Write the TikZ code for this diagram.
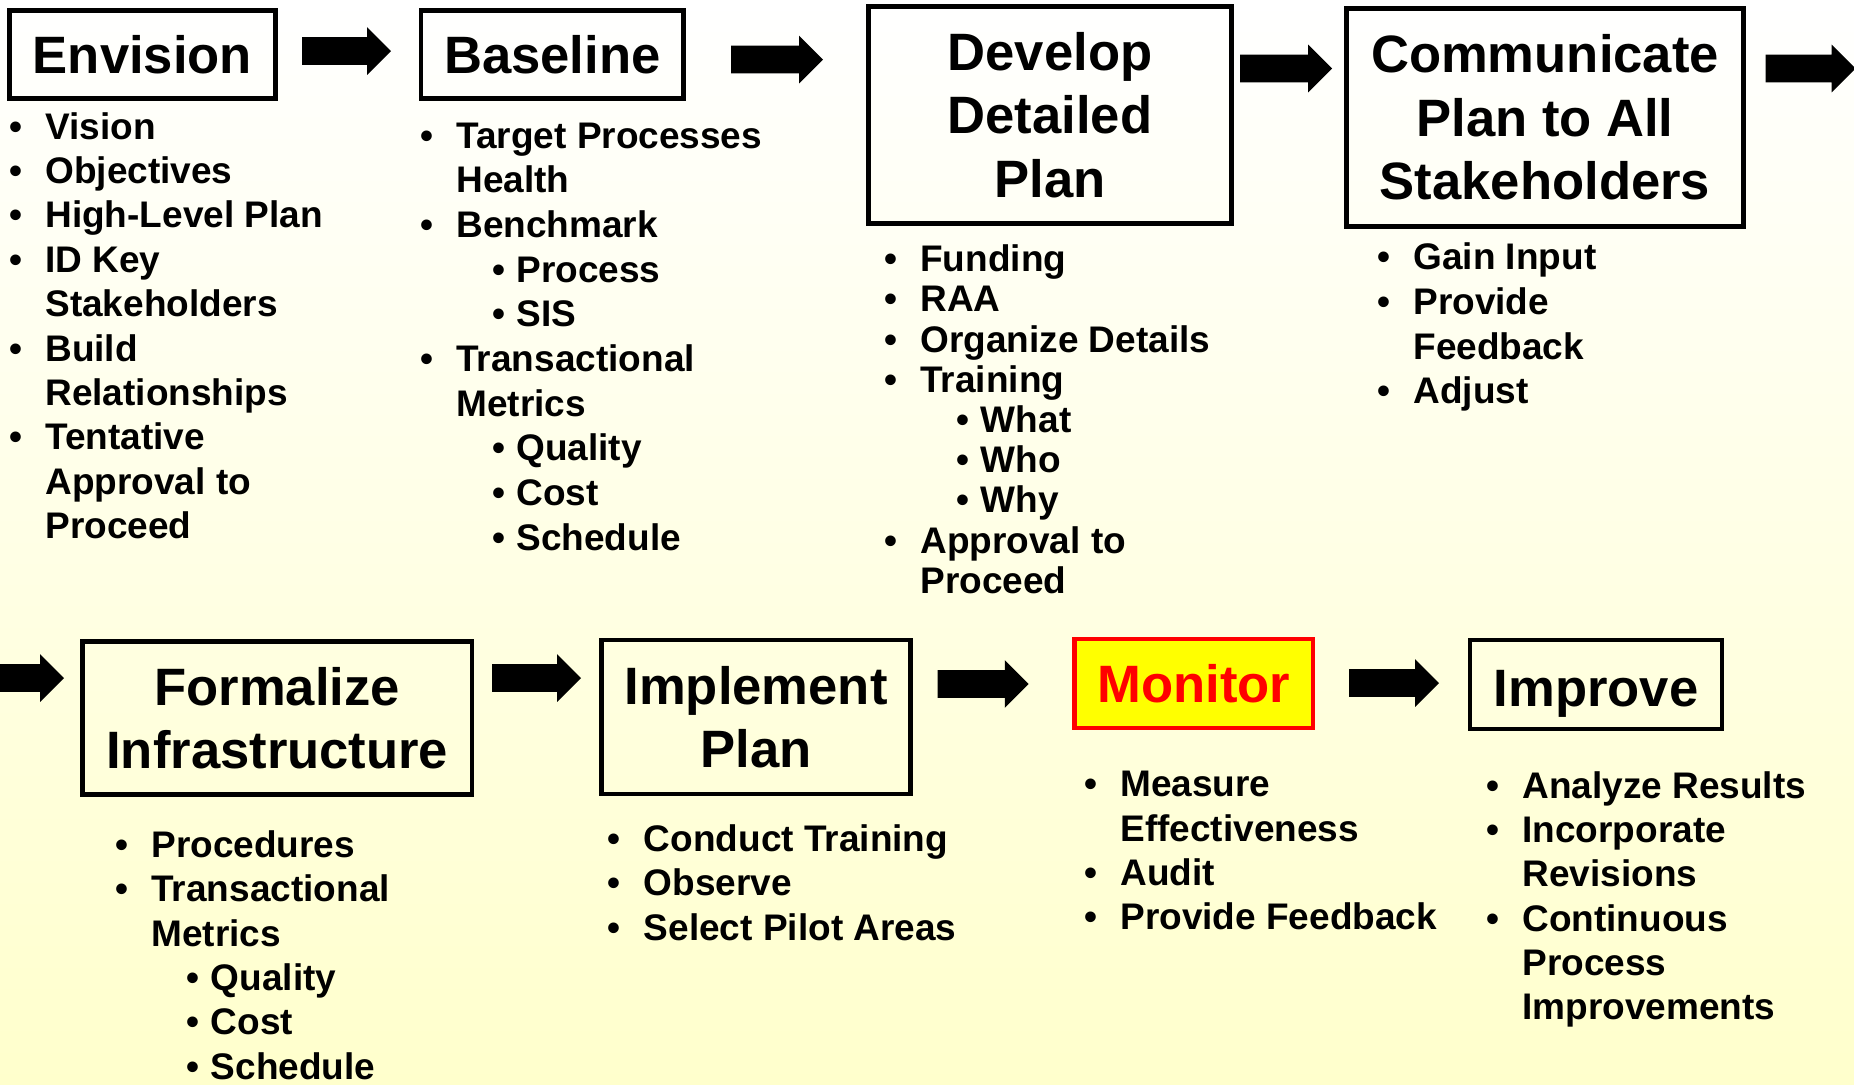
\documentclass[tikz,border=0pt]{standalone}
\usepackage{fontspec}
\setmainfont{Liberation Sans}
\usetikzlibrary{shapes.arrows}
\definecolor{bgbot}{RGB}{255,255,204}
\definecolor{mred}{RGB}{255,0,0}
\definecolor{myel}{RGB}{255,255,0}
\newcommand{\bu}{\llap{•\hspace{11.7pt}}}
\newcommand{\sbu}{\llap{•\hspace{5.7pt}}}
\begin{document}
\begin{tikzpicture}[x=0.5pt,y=-0.5pt,
  stage/.style={draw, line width=2.2pt, inner sep=0pt, align=center,
    font=\fontsize{26.3pt}{31.8pt}\selectfont\bfseries},
  li/.style={anchor=base west, inner sep=0pt,
    font=\fontsize{18.5pt}{22pt}\selectfont\bfseries},
  blk/.style={single arrow, fill=black, draw=none, inner xsep=0pt, inner ysep=6.75pt,
    outer sep=0pt, text height=0pt, text depth=0pt,
    minimum width=23.5pt, single arrow head extend=5pt,
    single arrow tip angle=90, anchor=tail}]
\useasboundingbox (0,0) rectangle (1854,1084);
\clip (0,0) rectangle (1854,1084);
\shade[top color=white, bottom color=bgbot] (0,0) rectangle (1854,1084);

% stage boxes
\node[stage, minimum width=133pt, minimum height=44pt] (envision) at (142.5,54.5) {Envision};
\node[stage, minimum width=131.25pt, minimum height=44pt] (baseline) at (552.25,54.5) {Baseline};
\node[stage, minimum width=181.5pt, minimum height=108.5pt] (develop) at (1050,114.8) {Develop\\Detailed\\Plan};
\node[stage, minimum width=198.5pt, minimum height=109pt] (communicate) at (1545,117.5) {Communicate\\Plan to All\\Stakeholders};
\node[stage, minimum width=194.75pt, minimum height=76.5pt] (formalize) at (277.25,718) {Formalize\\Infrastructure};
\node[stage, minimum width=154.5pt, minimum height=76.75pt] (implement) at (756,717) {Implement\\Plan};
\node[stage, draw=mred, fill=myel, text=mred, minimum width=119.25pt, minimum height=44.25pt] (monitor) at (1193.75,683.5) {Monitor};
\node[stage, minimum width=126pt, minimum height=44.5pt, text height=21.5pt, text depth=0pt] (improve) at (1596,684.5) {Improve};

% block arrows
\node[blk, minimum height=44.5pt] (a1) at (302,51) {};
\node[blk, minimum height=46pt] (a2) at (731,59.5) {};
\node[blk, minimum height=46pt] (a3) at (1240,68.5) {};
\node[blk, minimum height=45pt] (a4) at (1765.5,68.5) {};
\node[blk, minimum height=45pt] (a5) at (-26,678) {};
\node[blk, minimum height=44.5pt] (a6) at (492,678) {};
\node[blk, minimum height=45.5pt] (a7) at (937.7,684) {};
\node[blk, minimum height=45pt] (a8) at (1349,683) {};

% lists
\foreach \lx/\lt [count=\i] in {45/\bu Vision, 45/\bu Objectives, 45/\bu High-Level Plan,
  45/\bu ID Key, 45/Stakeholders, 45/\bu Build, 45/Relationships, 45/\bu Tentative,
  45/Approval to, 45/Proceed}
  \node[li] (env\i) at (\lx,{139+44.4*(\i-1)}) {\lt};

\foreach \lx/\lt [count=\i] in {456/\bu Target Processes, 456/Health, 456/\bu Benchmark,
  516/\sbu Process, 516/\sbu SIS, 456/\bu Transactional, 456/Metrics,
  516/\sbu Quality, 516/\sbu Cost, 516/\sbu Schedule}
  \node[li] (bas\i) at (\lx,{148+44.7*(\i-1)}) {\lt};

\foreach \lx/\lt [count=\i] in {920/\bu Funding, 920/\bu RAA, 920/\bu Organize Details,
  920/\bu Training, 980.5/\sbu What, 980.5/\sbu Who, 980.5/\sbu Why,
  920/\bu Approval to, 920/Proceed}
  \node[li] (dev\i) at (\lx,{271.7+40.2*(\i-1)}) {\lt};

\foreach \lx/\lt [count=\i] in {1413/\bu Gain Input, 1413/\bu Provide, 1413/Feedback,
  1413/\bu Adjust}
  \node[li] (com\i) at (\lx,{269.8+44.6*(\i-1)}) {\lt};

\foreach \lx/\lt [count=\i] in {151/\bu Procedures, 151/\bu Transactional, 151/Metrics,
  210.5/\sbu Quality, 210.5/\sbu Cost, 210.5/\sbu Schedule}
  \node[li] (for\i) at (\lx,{857.3+44.4*(\i-1)}) {\lt};

\foreach \lx/\lt [count=\i] in {643.5/\bu Conduct Training, 643.5/\bu Observe,
  643.5/\bu Select Pilot Areas}
  \node[li] (imp\i) at (\lx,{851.7+44.2*(\i-1)}) {\lt};

\foreach \lx/\lt [count=\i] in {1120/\bu Measure, 1120/Effectiveness, 1120/\bu Audit,
  1120/\bu Provide Feedback}
  \node[li] (mon\i) at (\lx,{796.7+44.4*(\i-1)}) {\lt};

\foreach \lx/\lt [count=\i] in {1522/\bu Analyze Results, 1522/\bu Incorporate,
  1522/Revisions, 1522/\bu Continuous, 1522/Process, 1522/Improvements}
  \node[li] (imv\i) at (\lx,{798.3+44.3*(\i-1)}) {\lt};
\end{tikzpicture}
\end{document}
